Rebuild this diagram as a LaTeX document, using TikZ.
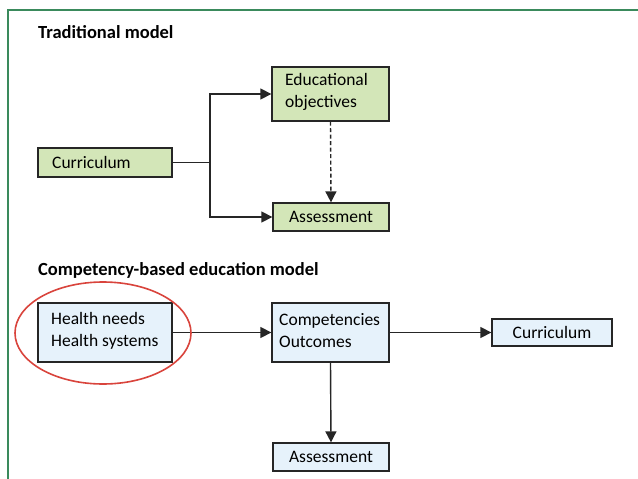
\documentclass[tikz,border=0pt]{standalone}
\usepackage{fontspec}
\setmainfont{Carlito}
\usetikzlibrary{arrows.meta}
\definecolor{framegreen}{HTML}{3A8A5C}
\definecolor{boxgreen}{HTML}{D3E6B8}
\definecolor{boxblue}{HTML}{E6F2FB}
\definecolor{ringred}{HTML}{D9443C}
\begin{document}
\begin{tikzpicture}[x=1pt,y=-1pt,
  txt/.style={font=\fontsize{17.5}{22}\selectfont, inner sep=0pt},
  box/.style={draw=black!85, line width=1.3pt, inner sep=0pt, txt},
  gbox/.style={box, fill=boxgreen},
  bbox/.style={box, fill=boxblue},
  conn/.style={line width=1.4pt, draw=black!85, -{Triangle[length=11pt,width=11pt]}},
  title/.style={font=\fontsize{18.5}{22}\selectfont\bfseries, anchor=base west, inner sep=0pt}]
\useasboundingbox (0,0) rectangle (638,479);
\fill[white] (0,0) rectangle (638,479);
\draw[framegreen, line width=2pt] (8,481) -- (8,10) -- (640,10);
\node[title] (t1) at (38,38) {Traditional model};
\node[title] (t2) at (38,275) {Competency-based education model};
% traditional
\node[gbox, minimum width=117pt, minimum height=54pt] (edu) at (330.5,94) {};
\node[txt, anchor=west, align=left] (edut) at (285,92) {Educational\\objectives};
\node[gbox, minimum width=116pt, minimum height=28pt] (ass1) at (331,217) {Assessment};
\node[gbox, minimum width=134pt, minimum height=29pt] (cur1) at (105,162.5) {};
\node[txt, anchor=west] (cur1t) at (52,162.5) {Curriculum};
\coordinate (j) at (210,162.5);
\draw[line width=1.4pt, draw=black!85] (cur1.east) -- (j);
\draw[conn] (j) |- (edu.west);
\draw[conn] (j) |- (ass1.west);
\draw[conn, dash pattern=on 4pt off 2.5pt] (edu.south) -- (ass1.north);
% competency based
\node[bbox, minimum width=134pt, minimum height=59pt] (hn) at (105,332.5) {};
\node[txt, anchor=west, align=left] (hnt) at (51,331) {Health needs\\Health systems};
\node[bbox, minimum width=117pt, minimum height=59pt] (comp) at (330.5,332.5) {};
\node[txt, anchor=west, align=left] (compt) at (279,331) {Competencies\\Outcomes};
\node[bbox, minimum width=120pt, minimum height=27pt] (cur2) at (552,332.5) {Curriculum};
\node[bbox, minimum width=116pt, minimum height=28pt] (ass2) at (331,457) {Assessment};
\draw[conn] (hn.east) -- (comp.west);
\draw[conn] (comp.east) -- (cur2.west);
\draw[conn] (comp.south) -- (ass2.north);
\draw[ringred, line width=1.6pt] (103,333) ellipse [x radius=88, y radius=51];
\end{tikzpicture}
\end{document}
